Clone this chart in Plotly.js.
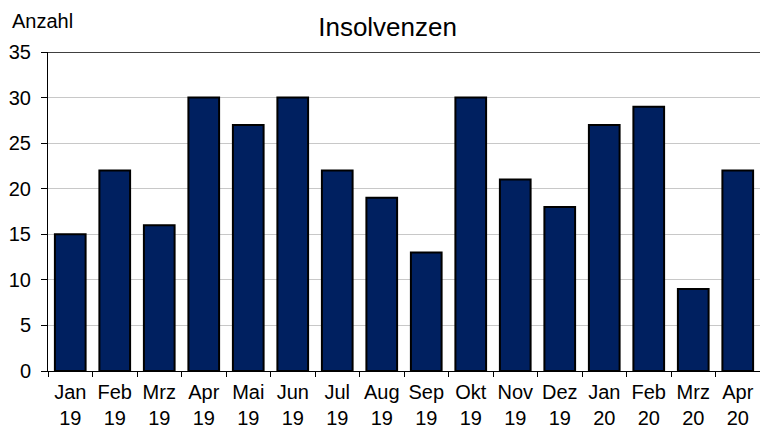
<!DOCTYPE html>
<html><head><meta charset="utf-8">
<script src="https://cdn.plot.ly/plotly-3.0.1.min.js"></script>
<style>html,body{margin:0;padding:0;background:#fff}#chart{width:760px;height:430px}</style>
</head><body><div id="chart"></div>
<script>
const months = ["Jan","Feb","Mrz","Apr","Mai","Jun","Jul","Aug","Sep","Okt","Nov","Dez","Jan","Feb","Mrz","Apr"];
const years = ["19","19","19","19","19","19","19","19","19","19","19","19","20","20","20","20"];
const values = [15,22,16,30,27,30,22,19,13,30,21,18,27,29,9,22];
const categories = months.map((m,i)=>m+"<br>"+years[i]);

const trace = {
  type:"bar", x:categories, y:values,
  marker:{color:"#002060", line:{color:"#000000", width:2}},
  hoverinfo:"none"
};
const layout = {
  width:760, height:430,
  margin:{l:48, r:0, t:52, b:59},
  paper_bgcolor:"#fff", plot_bgcolor:"#fff",
  font:{family:"Liberation Sans, Arial, sans-serif", color:"#000", size:20},
  title:{text:"Insolvenzen", x:0.51, xanchor:"center", y:0.937, yanchor:"middle", font:{size:26, color:"#000"}},
  bargap:0.31,
  showlegend:false,
  xaxis:{type:"category", range:[-0.5,15.5], tickson:"boundaries", ticks:"outside", ticklen:5, tickcolor:"#000", tickwidth:1,
         tickangle:0, showline:true, linecolor:"#000", linewidth:1, showgrid:false, tickfont:{size:20}, fixedrange:true,
         automargin:false, ticklabelstandoff:3},
  yaxis:{range:[0,35], dtick:5, ticks:"outside", ticklen:6, tickcolor:"#000", showline:true, linecolor:"#000", linewidth:1,
         showgrid:true, gridcolor:"#c8c8c8", gridwidth:1, zeroline:false, tickfont:{size:20}, automargin:false, ticklabelstandoff:6},
  shapes:[{type:"line", xref:"paper", yref:"y", x0:0, x1:1, y0:35, y1:35, line:{color:"#000", width:1.5}}],
  annotations:[{text:"Anzahl", xref:"paper", yref:"paper", x:0, y:1, xanchor:"left", yanchor:"bottom", showarrow:false,
                font:{size:20}, xshift:-38, yshift:18}]
};
Plotly.newPlot("chart",[trace],layout,{displayModeBar:false, staticPlot:true});
</script></body></html>
